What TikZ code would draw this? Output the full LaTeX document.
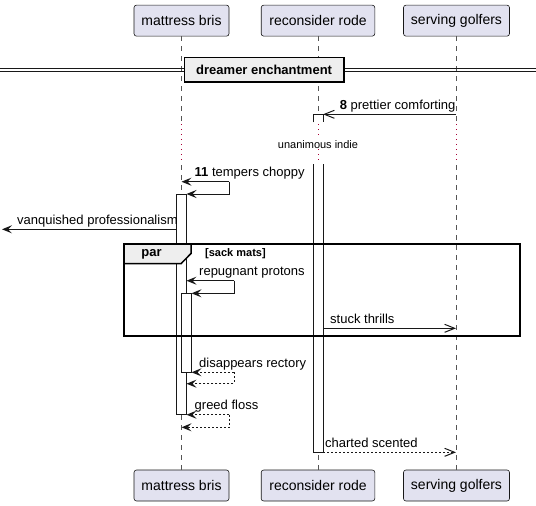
\documentclass[tikz,border=0pt]{standalone}
\usepackage{fontspec}
\setmainfont{Liberation Sans}
\usetikzlibrary{arrows.meta}
\definecolor{pbox}{HTML}{E2E2F0}
\definecolor{pline}{HTML}{181818}
\definecolor{grp}{HTML}{EEEEEE}
\definecolor{delayc}{HTML}{A80036}
\definecolor{lifec}{HTML}{555555}
\begin{document}
\begin{tikzpicture}[x=1pt,y=-1pt,
  part/.style={draw=pline, line width=0.6pt, fill=pbox, rounded corners=2.5pt,
    minimum height=31pt, inner sep=0pt, font=\fontsize{14}{16}\selectfont},
  lifeline/.style={draw=lifec, line width=0.5pt, dash pattern=on 5pt off 5pt},
  delayline/.style={draw=delayc, line width=0.8pt, dash pattern=on 1pt off 4pt},
  actbox/.style={draw=pline, line width=0.8pt, fill=white},
  msgline/.style={draw=pline, line width=1pt},
  retline/.style={draw=pline, line width=1pt, dash pattern=on 2pt off 2pt},
  filledtip/.style={-{Stealth[length=10pt,width=8pt,inset=4pt]}},
  opentip/.style={-{Straight Barb[length=10pt,width=8pt,line width=1pt]}},
  lbl/.style={anchor=base west, inner sep=0pt, font=\fontsize{13}{15}\selectfont},
]
\useasboundingbox (0,0) rectangle (536,506);

% participants
\node[part, minimum width=95pt] (pA) at (181.5,20.65) {mattress bris};
\node[part, minimum width=113.6pt] (pB) at (318,20.65) {reconsider rode};
\node[part, minimum width=106pt] (pC) at (456.5,20.65) {serving golfers};
\node[part, minimum width=95pt] (pAb) at (181.5,485.5) {mattress bris};
\node[part, minimum width=113.6pt] (pBb) at (318,485.5) {reconsider rode};
\node[part, minimum width=106pt] (pCb) at (456.5,485.5) {serving golfers};

% lifeline coordinates
\foreach \n/\x in {A/181.5,B/318,C/456} {
  \coordinate (l\n1) at (\x,122);
  \coordinate (l\n2) at (\x,124);
  \coordinate (l\n3) at (\x,163);
  \coordinate (l\n4) at (\x,165);
}
\draw[lifeline] (pA.south) -- (lA1);
\draw[lifeline] (pB.south) -- (lB1);
\draw[lifeline] ([xshift=-0.5pt]pC.south) -- (lC1);
\draw[delayline] (lA2) -- (lA3);
\draw[delayline] (lB2) -- (lB3);
\draw[delayline] (lC2) -- (lC3);
\draw[lifeline] (lA4) -- (pAb.north);
\draw[lifeline] (lB4) -- (pBb.north);
\draw[lifeline] (lC4) -- ([xshift=-0.5pt]pCb.north);

% divider
\draw[pline, line width=0.8pt] (0,68.3) -- (536,68.3);
\draw[pline, line width=0.8pt] (0,71.7) -- (536,71.7);
\node[draw=black, line width=1.6pt, fill=grp, minimum width=159.7pt, minimum height=24.7pt,
  inner sep=0pt, font=\bfseries\fontsize{13}{15}\selectfont] (div) at (264.15,69.65) {dreamer enchantment};

% activations
\draw[actbox] (313,122.3) -- (313,114.3) -- (323,114.3) -- (323,122.3);
\fill[white] (313.4,164) rectangle (322.6,452.3);
\draw[actbox] (313,164) -- (313,452.3) -- (323,452.3) -- (323,164);
\draw[actbox] (176.5,194) rectangle (186.5,414.7);
\draw[actbox] (181.5,293.3) rectangle (191.5,372.3);

% delay text
\node[fill=white, inner sep=1pt, font=\fontsize{11}{13}\selectfont] (delay) at (318,144.3) {unanimous indie};

% message 8
\coordinate (m8s) at (456,114.3);
\coordinate (m8e) at (323,114.3);
\draw[msgline, opentip] (m8s) -- (m8e);
\node[lbl] (l8) at (339.6,109.3) {\textbf{8} prettier comforting};

% message 11 (self)
\coordinate (m11a) at (181.5,181.7);
\coordinate (m11b) at (229,181.7);
\coordinate (m11c) at (229,194);
\coordinate (m11d) at (186.5,194);
\draw[msgline, filledtip] (m11b) -- (m11a);
\draw[msgline, filledtip] (m11b) -- (m11c) -- (m11d);
\node[lbl] (l11) at (194.5,176.7) {\textbf{11} tempers choppy};

% vanquished
\coordinate (mvs) at (176.5,229.3);
\coordinate (mve) at (2,229.3);
\draw[msgline, filledtip] (mvs) -- (mve);
\node[lbl] (lv) at (17,224.3) {vanquished professionalism};

% repugnant protons (self)
\coordinate (mra) at (186.5,280.7);
\coordinate (mrb) at (234,280.7);
\coordinate (mrc) at (234,293.3);
\coordinate (mrd) at (191.5,293.3);
\draw[msgline, filledtip] (mrb) -- (mra);
\draw[msgline, filledtip] (mrb) -- (mrc) -- (mrd);
\node[lbl] (lr) at (199,275.7) {repugnant protons};

% stuck thrills
\coordinate (mss) at (323,328.3);
\coordinate (mse) at (456,328.3);
\draw[msgline, opentip] (mss) -- (mse);
\node[lbl] (ls) at (330,323.3) {stuck thrills};

% par group
\draw[black, line width=1.5pt] (124,244) rectangle (520,336);
\filldraw[fill=grp, draw=black, line width=1.5pt] (124,244) -- (191,244) -- (191,253.5) -- (181,263.7) -- (124,263.7) -- cycle;
\node[inner sep=0pt, font=\bfseries\fontsize{13}{15}\selectfont] (gpar) at (151.5,254) {par};
\node[anchor=west, inner sep=0pt, font=\bfseries\fontsize{11}{13}\selectfont] (gcond) at (205,254) {[sack mats]};

% disappears rectory (return)
\coordinate (mda) at (191.5,372.3);
\coordinate (mdb) at (234,372.3);
\coordinate (mdc) at (234,383.7);
\coordinate (mdd) at (186.5,383.7);
\draw[retline, filledtip] (mdb) -- (mda);
\draw[retline, filledtip] (mdb) -- (mdc) -- (mdd);
\node[lbl] (ld) at (199,367.3) {disappears rectory};

% greed floss (return)
\coordinate (mga) at (186.5,414.7);
\coordinate (mgb) at (229,414.7);
\coordinate (mgc) at (229,427.3);
\coordinate (mgd) at (181.5,427.3);
\draw[retline, filledtip] (mgb) -- (mga);
\draw[retline, filledtip] (mgb) -- (mgc) -- (mgd);
\node[lbl] (lg) at (194.5,409.7) {greed floss};

% charted scented
\coordinate (mcs) at (323,452.3);
\coordinate (mce) at (456,452.3);
\draw[retline, opentip] (mcs) -- (mce);
\node[lbl] (lc) at (325,447.3) {charted scented};

\end{tikzpicture}
\end{document}
